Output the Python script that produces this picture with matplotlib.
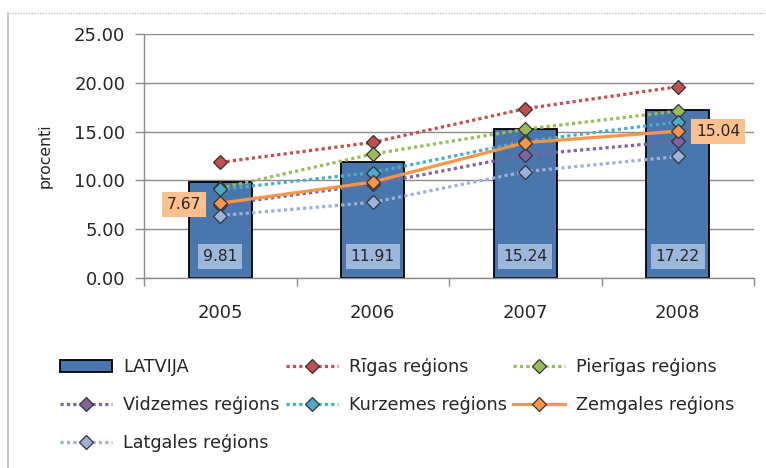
import matplotlib.pyplot as plt
from matplotlib.lines import Line2D
import numpy as np

plt.rcParams['font.family'] = ['DejaVu Sans']

# data
years = ['2005', '2006', '2007', '2008']
latvija = [9.81, 11.91, 15.24, 17.22]
rigas = [11.85, 13.9, 17.35, 19.6]
pierigas = [9.2, 12.7, 15.25, 17.1]
vidzemes = [7.5, 9.6, 12.6, 14.0]
kurzemes = [9.07, 10.8, 14.0, 16.0]
zemgales = [7.67, 9.83, 13.87, 15.04]
latgales = [6.4, 7.75, 10.9, 12.45]

W, H = 766, 468
fig = plt.figure(figsize=(W / 100, H / 100), dpi=100)
ax = fig.add_axes([144 / W, 1 - 278 / H, (754 - 144) / W, (278 - 34) / H])

x = np.arange(len(years))
txt = '#262626'

# bars
bars = ax.bar(x, latvija, width=0.41, color='#4A76AE', edgecolor='black',
              linewidth=1.3, zorder=2, label='LATVIJA')
for xi, v in zip(x, latvija):
    ax.annotate('%.2f' % v, xy=(xi, 0), xytext=(0, 15.5), textcoords='offset points',
                ha='center', va='center', fontsize=11.2, color=txt, zorder=5,
                bbox=dict(boxstyle='square,pad=0.32', fc='#9DB7DB', ec='none'))

# region lines
dot = (0, (1, 1))
series = [
    ('Rīgas reģions', rigas, '#C0504D', dot),
    ('Pierīgas reģions', pierigas, '#9BBB59', dot),
    ('Vidzemes reģions', vidzemes, '#8064A2', dot),
    ('Kurzemes reģions', kurzemes, '#4BACC6', dot),
    ('Zemgales reģions', zemgales, '#F79646', '-'),
    ('Latgales reģions', latgales, '#9DB1DA', dot),
]
handles = {}
for i, (name, vals, col, ls) in enumerate(series):
    ln, = ax.plot(x, vals, color=col, linestyle=ls, linewidth=2.3,
                  dash_capstyle='butt', marker='D', markersize=7,
                  markerfacecolor=col, markeredgecolor='#333333',
                  markeredgewidth=0.9, zorder=3 + i * 0.1, label=name)
    handles[name] = ln

# Zemgale data labels
ax.annotate('%.2f' % zemgales[0], xy=(x[0], zemgales[0]), xytext=(-26, -1),
            textcoords='offset points', ha='center', va='center', fontsize=11.2,
            color=txt, zorder=6,
            bbox=dict(boxstyle='square,pad=0.32', fc='#FAC090', ec='none'))
ax.annotate('%.2f' % zemgales[-1], xy=(x[-1], zemgales[-1]), xytext=(29, 0),
            textcoords='offset points', ha='center', va='center', fontsize=11.2,
            color=txt, zorder=6,
            bbox=dict(boxstyle='square,pad=0.32', fc='#FAC090', ec='none'))

# axes styling
ax.set_xlim(-0.5, 3.5)
ax.set_ylim(0, 25)
ax.set_yticks(np.arange(0, 26, 5))
ax.set_yticklabels(['%.2f' % v for v in np.arange(0, 26, 5)])
ax.yaxis.grid(True, color='#8C8C8C', linewidth=1)
ax.set_axisbelow(True)
ax.set_xticks(x)
ax.set_xticklabels(years)
ax.set_xticks(np.arange(-0.5, 4, 1), minor=True)
ax.tick_params(axis='x', which='major', length=0, pad=19, labelsize=13, labelcolor=txt)
ax.tick_params(axis='x', which='minor', length=6, color='#8C8C8C', width=1)
ax.tick_params(axis='y', length=6.5, color='#8C8C8C', width=1, pad=7,
               labelsize=13, labelcolor=txt)
for s in ['top', 'right']:
    ax.spines[s].set_visible(False)
for s in ['left', 'bottom']:
    ax.spines[s].set_color('#8C8C8C')
    ax.spines[s].set_linewidth(1)
ax.set_ylabel('procenti', fontsize=11.3, color=txt)
ax.yaxis.set_label_coords(-0.149, 0.5)

# legend (column-wise order so rows match the reference)
order = ['LATVIJA', 'Vidzemes reģions', 'Latgales reģions', 'Rīgas reģions',
         'Kurzemes reģions', 'Pierīgas reģions', 'Zemgales reģions']
handles['LATVIJA'] = bars
fig.legend([handles[k] for k in order], order, loc='upper left',
           bbox_to_anchor=(60 / W, 1 - 358 / H), ncol=3, frameon=False,
           fontsize=12.7, handlelength=2.95, handletextpad=0.62, columnspacing=0.37,
           labelspacing=1.13, borderpad=0, borderaxespad=0, numpoints=1,
           labelcolor=txt)

# chart area border
fig.add_artist(Line2D([9 / W, 1], [1 - 13 / H, 1 - 13 / H], transform=fig.transFigure,
                      color='#BFBFBF', linestyle=(0, (1, 1)), linewidth=1))
fig.add_artist(Line2D([8 / W, 8 / W], [0, 1 - 13 / H], transform=fig.transFigure,
                      color='#BFBFBF', linewidth=1.2))

fig.savefig('out.png', dpi=100)
